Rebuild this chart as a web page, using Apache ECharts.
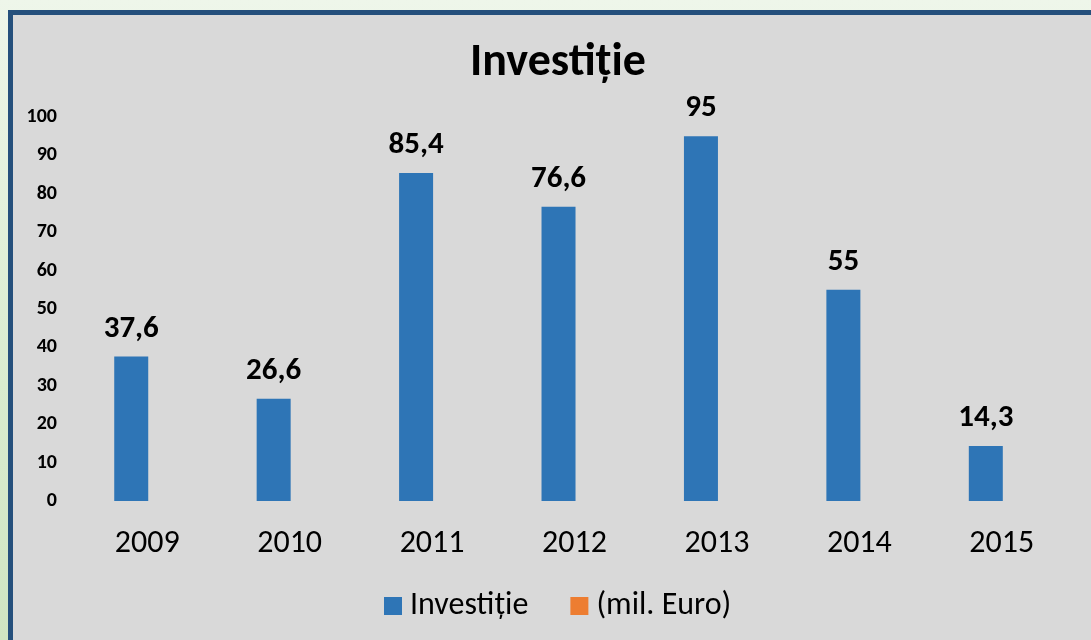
<!DOCTYPE html>
<html>
<head>
<meta charset="utf-8">
<script src="https://cdn.jsdelivr.net/npm/echarts@6/dist/echarts.min.js"></script>
<style>
  html, body { margin: 0; padding: 0; width: 1091px; height: 640px; overflow: hidden; }
  body { background: linear-gradient(to bottom, #eef6ea 0%, #d9eccf 60%, #cfe5c2 100%); position: relative; }
  #frame {
    position: absolute; left: 8px; top: 10px;
    width: 1100px; height: 650px;
    border: 5px solid #25507c; background: #d9d9d9;
  }
  #chart { width: 1100px; height: 650px; }
</style>
</head>
<body>
<div id="frame"><div id="chart"></div></div>
<script>
// chart data
const years = ['2009', '2010', '2011', '2012', '2013', '2014', '2015'];
const investitie = [37.6, 26.6, 85.4, 76.6, 95, 55, 14.3];
const milEuro = [null, null, null, null, null, null, null];
const yTicks = [0, 10, 20, 30, 40, 50, 60, 70, 80, 90, 100];

const font = 'Calibri, Carlito, "Open Sans", sans-serif';
const chart = echarts.init(document.getElementById('chart'), null, { renderer: 'canvas' });

chart.setOption({
  backgroundColor: 'transparent',
  animation: false,
  textStyle: { fontFamily: font },
  title: {
    text: 'Investiție',
    left: 540, top: 20, textAlign: 'center',
    textStyle: { fontSize: 46, fontWeight: 'bold', color: '#000', fontFamily: font }
  },
  legend: {
    left: 366, top: 570,
    itemWidth: 18, itemHeight: 18, itemGap: 42,
    icon: 'rect',
    textStyle: { fontSize: 32, color: '#000', fontFamily: font, padding: [0, 0, 0, 3] },
    data: ['Investiție', '(mil. Euro)']
  },
  grid: { left: 63, top: 102, width: 997, height: 384, containLabel: false },
  xAxis: {
    type: 'category',
    data: years,
    axisLine: { show: false },
    axisTick: { show: false },
    axisLabel: { fontSize: 32, color: '#000', margin: 27, fontFamily: font }
  },
  yAxis: {
    type: 'value',
    min: yTicks[0], max: yTicks[yTicks.length - 1], interval: 10,
    axisLine: { show: false },
    axisTick: { show: false },
    splitLine: { show: false },
    axisLabel: { fontSize: 20, fontWeight: 'bold', color: '#000', margin: 19, fontFamily: font }
  },
  series: [
    {
      name: 'Investiție', type: 'bar', data: investitie,
      barWidth: 34, barGap: '-6%',
      itemStyle: { color: '#2e75b6' },
      label: {
        show: true, position: 'top', distance: 12,
        fontSize: 31, fontWeight: 'bold', color: '#000', fontFamily: font,
        formatter: p => String(p.value).replace('.', ',')
      }
    },
    {
      name: '(mil. Euro)', type: 'bar', data: milEuro,
      barWidth: 34,
      itemStyle: { color: '#ed7d31' }
    }
  ]
});
</script>
</body>
</html>
